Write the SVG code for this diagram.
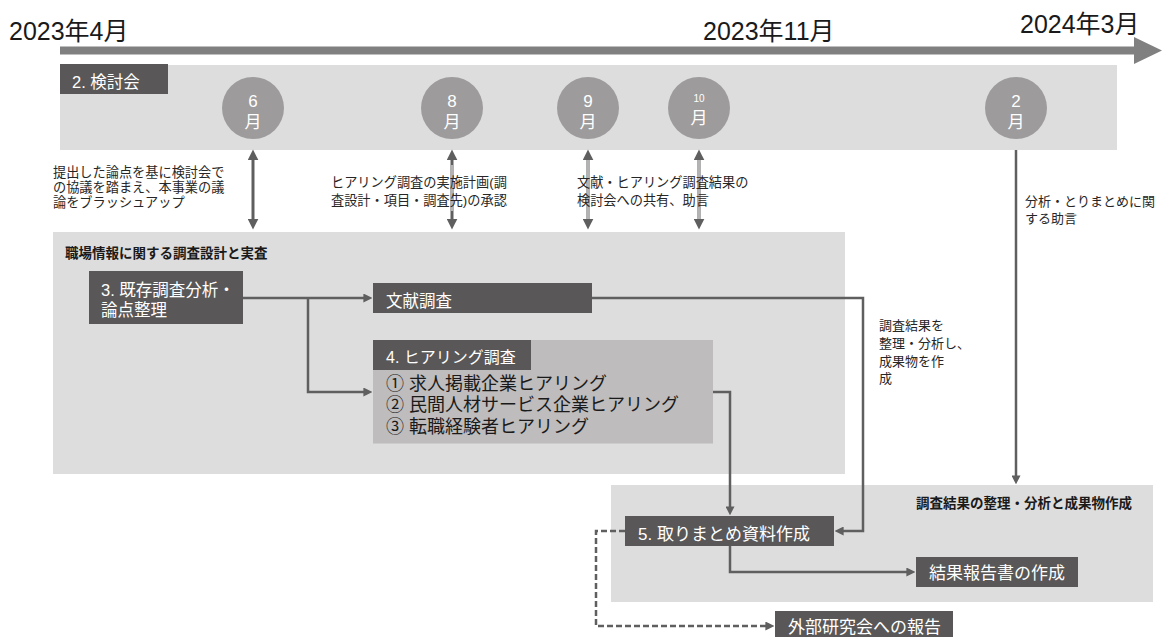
<svg xmlns="http://www.w3.org/2000/svg" width="1162" height="637" viewBox="0 0 1162 637">
  <style>
    text { font-family: "Liberation Sans", "Noto Sans CJK JP", sans-serif; }
    .year { font-size: 25px; fill: #1a1a1a; }
    .band { fill: #dddddd; }
    .dark { fill: #595757; }
    .lbl16 { font-size: 16.5px; fill: #ffffff; }
    .note { font-size: 13.2px; fill: #262626; }
    .note13 { font-size: 13px; fill: #262626; }
    .title { font-size: 13.5px; font-weight: bold; fill: #1a1a1a; }
    .circ { fill: #9d9b9b; }
    .cnum { font-size: 17px; fill: #ffffff; text-anchor: middle; }
    .list { font-size: 18px; fill: #1a1a1a; }
    .conn { fill: none; stroke: #5f5f5f; stroke-width: 2.5; }
    .dbl { fill: none; stroke: #5f5f5f; stroke-width: 3; }
    .lite { fill: none; stroke: #b3b3b3; stroke-width: 3; }
  </style>
  <defs>
    <marker id="ah" markerUnits="userSpaceOnUse" markerWidth="11" markerHeight="11" viewBox="0 0 10 10" refX="4" refY="5" orient="auto-start-reverse">
      <path d="M0,0 L10,5 L0,10 z" fill="#5f5f5f"/>
    </marker>
    <marker id="af" markerUnits="userSpaceOnUse" markerWidth="9" markerHeight="9" viewBox="0 0 10 10" refX="4" refY="5" orient="auto-start-reverse">
      <path d="M0,0 L10,5 L0,10 z" fill="#5f5f5f"/>
    </marker>
  </defs>

  <!-- timeline -->
  <g id="timeline">
    <rect x="60" y="46.5" width="1074" height="8" fill="#808080"/>
    <polygon points="1134,37 1162,50.5 1134,64" fill="#808080"/>
    <text class="year" x="9" y="40">2023年4月</text>
    <text class="year" x="703" y="40">2023年11月</text>
    <text class="year" x="1020" y="33">2024年3月</text>
  </g>

  <!-- bands -->
  <g id="band-kentoukai">
    <rect class="band" x="60" y="65" width="1057" height="85"/>
    <rect class="dark" x="60" y="64" width="108" height="30"/>
    <text class="lbl16" x="72" y="88">2. 検討会</text>
  </g>
  <g id="band-chousa">
    <rect class="band" x="53" y="232" width="792" height="242"/>
    <text class="title" x="65" y="258">職場情報に関する調査設計と実査</text>
  </g>
  <g id="band-seika">
    <rect class="band" x="611" y="485" width="542" height="117"/>
    <text class="title" x="916" y="508">調査結果の整理・分析と成果物作成</text>
  </g>

  <!-- month circles -->
  <g id="m6"><circle class="circ" cx="253" cy="108" r="31"/><text class="cnum" x="253" y="107">6<tspan x="253" y="127.5">月</tspan></text></g>
  <g id="m8"><circle class="circ" cx="452" cy="108" r="31"/><text class="cnum" x="452" y="107">8<tspan x="452" y="127.5">月</tspan></text></g>
  <g id="m9"><circle class="circ" cx="588" cy="108" r="31"/><text class="cnum" x="588" y="107">9<tspan x="588" y="127.5">月</tspan></text></g>
  <g id="m10"><circle class="circ" cx="699" cy="108" r="31"/><text class="cnum" x="699" y="124"><tspan x="699" y="102" style="font-size:10px">10</tspan><tspan x="699" y="123.5">月</tspan></text></g>
  <g id="m2"><circle class="circ" cx="1016" cy="108" r="31"/><text class="cnum" x="1016" y="107">2<tspan x="1016" y="127.5">月</tspan></text></g>

  <!-- connectors -->
  <g id="connectors">
    <path class="dbl" d="M253,156 V223" marker-start="url(#ah)" marker-end="url(#ah)"/>
    <path class="dbl" d="M452,156 V223" marker-start="url(#ah)" marker-end="url(#ah)"/>
    <path class="lite" d="M452,165 V211"/>
    <path class="dbl" d="M588,156 V223" marker-start="url(#ah)" marker-end="url(#ah)"/>
    <path class="lite" d="M588,160 V219"/>
    <path class="dbl" d="M699,156 V223" marker-start="url(#ah)" marker-end="url(#ah)"/>
    <path class="lite" d="M699,160 V219"/>
    <path class="conn" d="M1016,150 V479" marker-end="url(#af)"/>
    <path class="conn" d="M243,298 H367" marker-end="url(#af)"/>
    <path class="conn" d="M308,298 V392 H367" marker-end="url(#af)"/>
    <path class="conn" d="M592,298 H863 V531 H840" marker-end="url(#af)"/>
    <path class="conn" d="M713,392 H730 V510" marker-end="url(#af)"/>
    <path class="conn" d="M730,546 V572 H910" marker-end="url(#af)"/>
    <path class="conn" d="M625,531 H596 V626 H769" stroke-dasharray="6 3" marker-end="url(#af)"/>
  </g>

  <!-- notes -->
  <g id="note-6">
    <text class="note" x="53" y="177">提出した論点を基に検討会で<tspan x="53" y="192">の協議を踏まえ、本事業の議</tspan><tspan x="53" y="207">論をブラッシュアップ</tspan></text>
  </g>
  <g id="note-8">
    <text class="note" x="331" y="186.5">ヒアリング調査の実施計画(調<tspan x="331" y="204.5">査設計・項目・調査先)の承認</tspan></text>
  </g>
  <g id="note-9-10">
    <text class="note" x="577" y="186.5">文献・ヒアリング調査結果の<tspan x="577" y="204.5">検討会への共有、助言</tspan></text>
  </g>
  <g id="note-2">
    <text class="note13" x="1025" y="206">分析・とりまとめに関<tspan x="1025" y="223">する助言</tspan></text>
  </g>
  <g id="note-seika">
    <text class="note13" x="879" y="330">調査結果を<tspan x="879" y="348">整理・分析し、</tspan><tspan x="879" y="365.5">成果物を作</tspan><tspan x="879" y="383">成</tspan></text>
  </g>

  <!-- nodes -->
  <g id="node3">
    <rect class="dark" x="89" y="271" width="154" height="53"/>
    <text class="lbl16" x="101" y="296">3. 既存調査分析・<tspan x="101" y="315.5">論点整理</tspan></text>
  </g>
  <g id="node-bunken">
    <rect class="dark" x="373" y="283" width="219" height="30"/>
    <text class="lbl16" x="386" y="306.5">文献調査</text>
  </g>
  <g id="node4">
    <rect x="373" y="340" width="340" height="103.5" fill="#bebcbc"/>
    <rect class="dark" x="373" y="340" width="158" height="30"/>
    <text class="lbl16" x="386" y="362.5" style="font-size:16px">4. ヒアリング調査</text>
    <text class="list" x="386" y="389.5">① 求人掲載企業ヒアリング<tspan x="386" y="411">② 民間人材サービス企業ヒアリング</tspan><tspan x="386" y="432.5">③ 転職経験者ヒアリング</tspan></text>
  </g>
  <g id="node5">
    <rect class="dark" x="625" y="516" width="209" height="30"/>
    <text class="lbl16" x="638" y="539.5" style="font-size:17px">5. 取りまとめ資料作成</text>
  </g>
  <g id="node-houkokusho">
    <rect class="dark" x="916" y="557" width="162" height="30"/>
    <text class="lbl16" x="929" y="578.5" style="font-size:17px">結果報告書の作成</text>
  </g>
  <g id="node-gaibu">
    <rect class="dark" x="775" y="611" width="178" height="30"/>
    <text class="lbl16" x="788" y="632.5" style="font-size:17px">外部研究会への報告</text>
  </g>
</svg>
